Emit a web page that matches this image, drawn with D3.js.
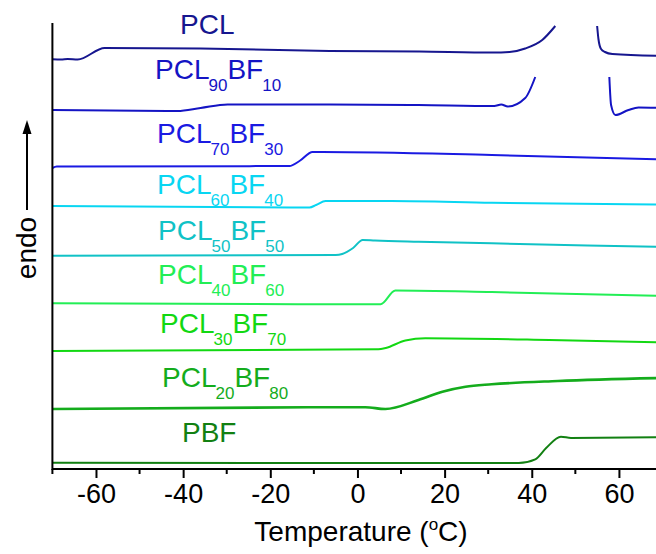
<!DOCTYPE html>
<html>
<head>
<meta charset="utf-8">
<script src="https://cdn.jsdelivr.net/npm/d3@7"></script>
<style>
  body { margin: 0; background: #fff; }
  text { font-family: "Liberation Sans", Arial, sans-serif; }
</style>
</head>
<body>
<div id="chart"></div>
<script>
// temperature (C) / heat flow (arbitrary units, curves stacked)
// null = where the curve was cut in the original figure
const pcl = [[-70, 40.97], [-68, 40.95], [-66.5, 41.0], [-64.2, 40.95], [-58, 42.1], [-36, 42.05],
  [-6.4, 41.8], [14.2, 41.75], [31, 41.65], [34.9, 41.7], [38.5, 42.05], [42.4, 42.9], [45.4, 44.3],
  null, [55, 44.3], [55.3, 43.0], [55.9, 42.0], [56.8, 41.7], [58.5, 41.5], [70, 41.3]];
const pcl90bf10 = [[-70, 35.9], [-41.3, 35.8], [-36, 36.1], [-29.8, 36.45], [-6.4, 36.45], [14, 36.4],
  [31.4, 36.3], [33, 36.45], [34.5, 36.25], [38.5, 37.1], [40.8, 39.2],
  null, [57.8, 39.2], [58.2, 36.4], [59.2, 35.4], [62.2, 35.9], [64.5, 36.15], [70, 36.1]];
const pcl70bf30 = [[-70, 30.1], [-69, 30.25], [-15.6, 30.3], [-13.3, 30.8], [-10.3, 31.7], [-8, 31.7],
  [30.8, 31.4], [70, 30.95]];
const pcl60bf40 = [[-70, 26.3], [-11, 26.15], [-9.5, 26.4], [-7.3, 26.8], [7.8, 26.8], [30.8, 26.63], [70, 26.45]];
const pcl50bf50 = [[-70, 21.33], [-5, 21.4], [-3.5, 21.5], [-1, 22.1], [1.2, 22.9], [4, 22.85],
  [14, 22.73], [30.8, 22.57], [70, 22.2]];
const pcl40bf60 = [[-70, 16.57], [5.3, 16.47], [8.7, 17.85], [30.8, 17.7], [70, 17.3]];
const pcl30bf70 = [[-70, 11.8], [4.8, 11.97], [6.5, 12.1], [11, 12.85], [15.6, 13.07], [44, 12.9], [70, 12.65]];
const pcl20bf80 = [[-70, 6.0], [-7.3, 6.17], [1.8, 6.17], [6.4, 6.0], [14, 6.9], [19.5, 7.73], [24.8, 8.23],
  [30.8, 8.47], [46, 8.8], [70, 9.1]];
const pbf = [[-70, 0.63], [-20, 0.6], [37, 0.6], [40.8, 0.97], [43.3, 2.1], [46.7, 3.23], [49, 3.1], [70, 3.17]];

// sample names: [main, sub, main, sub]
const sampleNames = [['PCL'], ['PCL', '90', 'BF', '10'], ['PCL', '70', 'BF', '30'], ['PCL', '60', 'BF', '40'],
  ['PCL', '50', 'BF', '50'], ['PCL', '40', 'BF', '60'], ['PCL', '30', 'BF', '70'], ['PCL', '20', 'BF', '80'], ['PBF']];
const series = [pcl, pcl90bf10, pcl70bf30, pcl60bf40, pcl50bf50, pcl40bf60, pcl30bf70, pcl20bf80, pbf];

const xTicks = [-60, -40, -20, 0, 20, 40, 60];
const xMinorTicks = [-70, -50, -30, -10, 10, 30, 50, 70];

let width = 656;
let height = 554;

let colors = ['#16168f', '#1414c4', '#1a1ae2', '#08d6f2', '#10c2c6', '#22ee55', '#12d812', '#14ac1c', '#128012'];
let strokeWidths = [2, 2, 2, 2, 2, 2, 2, 2.6, 2];
// label left x / baseline y
let labelPos = [[180, 34], [155, 79], [157, 143], [157, 194], [158, 240], [158, 284], [160, 333], [162, 387], [182, 442]];

let x = d3.scaleLinear().domain([-70, 70]).range([52.4, 662.5]);
let y = d3.scaleLinear().domain([0, 44.6]).range([469, 23]);

let svg = d3.select('#chart').append('svg')
  .attr('width', width)
  .attr('height', height);

svg.append('defs').append('clipPath').attr('id', 'plot')
  .append('rect')
  .attr('x', x(-70)).attr('y', y(44.6))
  .attr('width', x(70) - x(-70)).attr('height', y(0) - y(44.6));

// curves
let line = d3.line()
  .defined((d) => d !== null)
  .x((d) => x(d[0]))
  .y((d) => y(d[1]))
  .curve(d3.curveMonotoneX);

svg.append('g').attr('clip-path', 'url(#plot)')
  .selectAll('path')
  .data(series)
  .enter().append('path')
  .attr('d', line)
  .attr('fill', 'none')
  .attr('stroke', (d, i) => colors[i])
  .attr('stroke-width', (d, i) => strokeWidths[i])
  .attr('stroke-linejoin', 'round');

// sample labels
let labels = svg.append('g').selectAll('text')
  .data(sampleNames)
  .enter().append('text')
  .attr('x', (d, i) => labelPos[i][0])
  .attr('y', (d, i) => labelPos[i][1])
  .attr('fill', (d, i) => colors[i])
  .attr('font-size', 28);

labels.each(function(parts){
  let t = d3.select(this);
  parts.forEach((p, k) => {
    let sub = k % 2 === 1;
    t.append('tspan')
      .attr('font-size', sub ? 17 : 28)
      .attr('dy', k === 0 ? 0 : (sub ? 12 : -12))
      .attr('dx', sub ? -1 : 0)
      .text(p);
  });
});

// bottom axis
let xAxis = d3.axisBottom(x)
  .tickValues(xTicks)
  .tickSize(9)
  .tickPadding(6)
  .tickFormat(d3.format('d'));

let gx = svg.append('g')
  .attr('transform', `translate(0, ${y(0)})`)
  .call(xAxis);

gx.select('.domain').attr('stroke-width', 2).attr('d', `M${x(-70)},0H${x(70)}`);
gx.selectAll('.tick line').attr('stroke-width', 2);
gx.selectAll('.tick text')
  .attr('font-size', 27)
  .attr('font-family', '"Liberation Sans", Arial, sans-serif')
  .text((d) => d < 0 ? '-' + Math.abs(d) : d);

gx.selectAll('.minor')
  .data(xMinorTicks)
  .enter().append('line')
  .attr('class', 'minor')
  .attr('x1', (d) => x(d)).attr('x2', (d) => x(d))
  .attr('y1', 0).attr('y2', 5)
  .attr('stroke', '#000')
  .attr('stroke-width', 2);

// left axis line, no ticks
svg.append('line')
  .attr('x1', x(-70)).attr('x2', x(-70))
  .attr('y1', y(44.6)).attr('y2', y(0) + 1)
  .attr('stroke', '#000')
  .attr('stroke-width', 2);

// axis title
let title = svg.append('text')
  .attr('x', 361)
  .attr('y', 541)
  .attr('text-anchor', 'middle')
  .attr('font-size', 28);
title.append('tspan').text('Temperature (');
title.append('tspan').attr('font-size', 17).attr('dy', -11).text('o');
title.append('tspan').attr('dy', 11).text('C)');

// endo arrow
svg.append('line')
  .attr('x1', 27).attr('x2', 27)
  .attr('y1', 210).attr('y2', 130)
  .attr('stroke', '#000')
  .attr('stroke-width', 2);

svg.append('path')
  .attr('d', 'M27,120L22.5,134L31.5,134Z')
  .attr('fill', '#000');

svg.append('text')
  .attr('transform', 'translate(36, 248) rotate(-90)')
  .attr('text-anchor', 'middle')
  .attr('font-size', 28)
  .text('endo');
</script>
</body>
</html>
